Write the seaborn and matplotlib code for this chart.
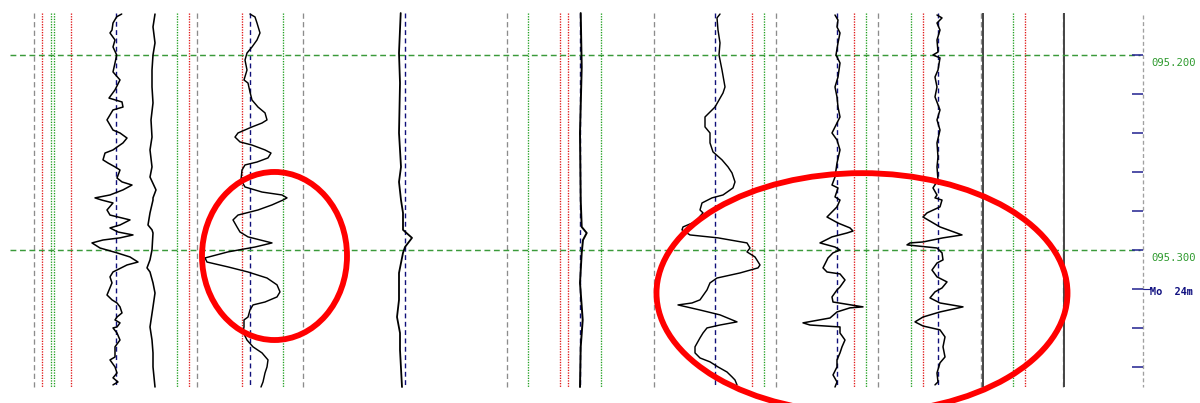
import matplotlib
matplotlib.use("Agg")
import matplotlib.pyplot as plt
from matplotlib.patches import Ellipse
import seaborn as sns
import pandas as pd

# ---------------- data (depth in mm below 95 m; horizontal in track units) -------------
c1_x = [121.7, 116.7, 113, 112, 110, 115, 113, 116.7, 115, 113, 120, 115, 109, 122, 123, 113, 107, 110, 113, 120,
        127, 123, 113, 105, 103, 108, 115, 120, 117, 122, 132, 123, 110, 95, 101.7, 113, 107, 110, 130, 120,
        110, 118, 133, 120, 103, 92, 100, 117, 130, 138, 127, 113, 110, 112, 107, 112, 117, 120, 122, 117,
        115, 120, 117, 113, 117, 120, 115, 115, 110, 115, 117, 113, 118, 113]
c1_d = [179.0, 180.4, 183.6, 187.2, 188.7, 192.3, 195.9, 200.0, 204.1, 208.7, 212.8, 217.9, 222.1, 224.1, 226.7,
        228.2, 233.3, 235.9, 238.5, 240.0, 242.6, 245.1, 248.7, 250.3, 253.8, 255.4, 257.4, 259.0, 263.1, 265.1,
        266.7, 269.2, 271.8, 273.3, 274.4, 275.9, 279.5, 282.1, 284.6, 287.2, 288.7, 290.8, 292.3, 293.8, 294.9,
        296.4, 299.0, 301.5, 303.6, 306.2, 307.7, 311.3, 313.8, 316.9, 323.1, 325.6, 327.2, 329.2, 332.3, 334.4,
        335.9, 337.4, 339.5, 340.0, 342.6, 346.2, 349.7, 354.9, 356.4, 360.0, 363.1, 365.6, 367.7, 369.2]

c2_x = [155, 153, 155, 153, 152, 152, 153, 151, 152, 150, 152, 150, 156, 153, 153, 150, 148, 152, 153, 152,
        150, 147, 150, 153, 155, 153, 150, 152, 153, 153, 155]
c2_d = [179.0, 185.6, 193.8, 200.0, 207.7, 216.4, 224.6, 233.3, 242.1, 248.7, 257.4, 262.6, 269.2, 273.3, 274.4,
        281.0, 287.2, 289.7, 291.3, 300.0, 305.1, 309.2, 311.3, 316.9, 322.1, 329.2, 339.5, 346.2, 352.8, 360.0,
        370.3]

c3_x = [250, 255, 257, 260, 257, 252, 247, 245, 247, 244, 248, 250, 252, 258, 265, 267, 262, 252, 238, 235,
        240, 252, 265, 271, 268, 257, 245, 242, 241, 245, 262, 282, 287, 283, 272, 258, 238, 233, 237, 240,
        248, 272, 255, 228, 205, 207, 228, 248, 267, 277, 280, 277, 265, 253, 250, 248, 244, 244, 243, 247,
        253, 262, 268, 267, 265, 263, 261]
c3_d = [179.0, 180.5, 183.6, 188.7, 192.3, 195.9, 199.0, 202.6, 207.7, 212.8, 214.4, 219.0, 223.1, 226.7, 229.7,
        233.3, 234.9, 236.9, 240.0, 242.1, 244.6, 246.2, 248.7, 250.3, 252.8, 254.9, 256.4, 259.0, 264.1, 267.7,
        270.3, 271.8, 273.3, 274.4, 276.9, 279.5, 282.1, 284.6, 288.2, 290.8, 293.3, 296.4, 298.5, 301.0, 304.1,
        306.2, 308.7, 311.3, 314.4, 317.9, 321.5, 324.1, 326.7, 328.2, 330.8, 334.4, 335.9, 339.5, 342.1, 346.2,
        349.7, 352.8, 356.4, 360.0, 363.1, 367.7, 370.3]

c4_x = [400.7, 399, 400, 399, 401, 399, 401, 403, 403, 412, 405, 403, 399, 399, 397, 400, 400, 402]
c4_d = [178.5, 199.0, 214.4, 240.0, 257.4, 265.1, 274.4, 281.0, 289.7, 293.8, 298.5, 301.5, 311.8, 325.6, 334.4,
        342.6, 351.3, 370.3]

c5_x = [580.7, 581.7, 580, 580.7, 581.7, 586.7, 583, 581.7, 580, 582.7, 580.7, 580]
c5_d = [178.5, 206.2, 240.0, 274.4, 288.2, 291.3, 294.9, 301.5, 316.9, 335.9, 349.7, 370.3]

c6_x = [720, 717, 718, 720, 719, 722, 725, 723, 715, 705, 705, 710, 710, 713, 722, 728, 732, 735, 733, 723,
        712, 702, 700, 703, 695, 683, 682, 690, 718, 747, 750, 747, 755, 760, 758, 740, 717, 710, 707, 700,
        692, 678, 700, 720, 737, 720, 707, 703, 700, 695, 695, 700, 710, 718, 727, 732, 735, 737]
c6_d = [179.0, 181.0, 187.2, 193.8, 200.0, 207.7, 216.4, 219.5, 226.7, 231.8, 236.9, 240.0, 245.1, 249.7, 253.8,
        257.4, 260.5, 265.1, 268.2, 271.8, 273.3, 275.9, 279.5, 281.0, 285.6, 288.2, 289.7, 292.3, 293.8, 296.4,
        299.0, 301.0, 303.6, 307.7, 309.2, 311.8, 314.4, 316.9, 320.5, 325.6, 327.2, 328.2, 330.8, 333.3, 336.9,
        338.5, 340.0, 342.6, 345.1, 349.7, 352.8, 355.4, 357.4, 360.0, 362.6, 365.1, 366.7, 369.2]

c7_x = [835, 838, 837, 840, 838, 836, 840, 838, 835, 837, 838, 840, 832, 837, 840, 837, 835, 832, 838, 835,
        840, 837, 827, 838, 850, 853, 847, 832, 820, 835, 840, 833, 828, 823, 827, 840, 845, 840, 837, 832,
        833, 863, 850, 837, 830, 803, 810, 840, 840, 845, 842, 840, 837, 837, 833, 837, 835]
c7_d = [179.5, 182.1, 185.6, 188.7, 193.8, 200.0, 204.1, 211.3, 216.4, 221.5, 226.7, 231.8, 240.0, 243.6, 248.7,
        255.4, 262.6, 266.7, 268.2, 272.8, 274.4, 277.9, 283.1, 286.2, 288.7, 290.3, 291.3, 293.3, 296.4, 298.5,
        300.0, 301.5, 304.1, 309.2, 311.3, 312.3, 315.4, 319.0, 320.5, 324.1, 326.7, 329.2, 329.7, 331.8, 334.9,
        337.4, 338.5, 339.5, 342.6, 346.2, 349.7, 352.8, 356.4, 360.0, 364.1, 367.7, 370.3]

c8_x = [937, 942, 937, 940, 937, 938, 933, 940, 938, 935, 937, 935, 940, 937, 940, 937, 938, 937, 938, 933,
        937, 935, 942, 940, 927, 923, 940, 962, 943, 923, 910, 907, 937, 942, 943, 937, 932, 937, 947, 942,
        935, 930, 940, 963, 940, 923, 915, 923, 940, 945, 943, 945, 940, 937, 938, 935]
c8_d = [179.5, 181.0, 183.6, 187.2, 192.3, 198.5, 200.0, 201.5, 207.7, 211.3, 216.4, 221.5, 228.2, 233.3, 238.5,
        245.1, 252.3, 257.4, 264.1, 268.2, 271.8, 273.3, 274.4, 277.9, 281.0, 283.1, 288.2, 292.3, 293.8, 295.9,
        296.4, 297.4, 299.0, 301.5, 305.1, 306.7, 310.3, 313.8, 316.4, 319.5, 321.5, 324.6, 327.2, 329.2, 331.8,
        334.4, 336.9, 339.0, 341.0, 344.6, 349.7, 354.9, 357.9, 363.1, 367.7, 369.2]

# track grid lines (horizontal track units)
gray_dashed = [34, 197, 303, 507, 654, 776, 878, 981, 1063]
red_dotted = [42, 71, 189, 242, 560, 568, 752, 854, 923, 1025]
green_dotted = [51, 54, 177, 283, 528, 601, 764, 866, 911, 1013]
blue_baselines = [116, 250, 405, 580, 715, 837, 938]
solid_borders = [983, 1064]

depth_ticks = [200, 220, 240, 260, 280, 300, 320, 340, 360]
depth_labels = {200: "095.200", 300: "095.300"}
marker_lines = [200, 300]
scale_text = "Mo  24m"

# ---------------- plotting ----------------
sns.set_style("white")
plt.rcParams['font.family'] = ['DejaVu Sans Mono', 'DejaVu Sans']

fig = plt.figure(figsize=(12, 4.03), dpi=100)
ax = fig.add_axes([0, 0, 1, 1])
ax.set_xlim(0, 1200)
ax.set_ylim(378.5, 171.8)
ax.axis("off")

top, bot = 178.5, 370.3
ax.vlines(gray_dashed, top, bot, colors="#8c8c8c", lw=0.95, linestyles=(0, (4, 2.5)))
ax.vlines(red_dotted, top, bot, colors="#e01818", lw=0.95, linestyles=(0, (1, 1)))
ax.vlines(green_dotted, top, bot, colors="#22a022", lw=0.95, linestyles=(0, (1, 1)))
ax.vlines(blue_baselines, top, bot, colors="#10107a", lw=1.0, linestyles=(0, (3.5, 2.5)))
ax.vlines(solid_borders, top, bot, colors="#444444", lw=1.4)
ax.vlines([1143], 179.5, bot, colors="#a0a0a0", lw=0.95, linestyles=(0, (3, 2)))

ax.hlines(marker_lines, 10, 1140, colors="#3a9a3a", lw=1.05, linestyles=(0, (4, 2.5)))

curves = [(c1_x, c1_d, 1.1), (c2_x, c2_d, 1.15), (c3_x, c3_d, 1.05), (c4_x, c4_d, 1.3),
          (c5_x, c5_d, 1.4), (c6_x, c6_d, 1.05), (c7_x, c7_d, 1.1), (c8_x, c8_d, 1.1)]
for xs, ds, lw in curves:
    df = pd.DataFrame({"v": xs, "depth": ds})
    sns.lineplot(data=df, x="v", y="depth", sort=False, estimator=None,
                 color="black", lw=lw, ax=ax, legend=False)

# depth track
ax.hlines(depth_ticks, 1132, 1143, colors="#202090", lw=1.1)
for d, lab in depth_labels.items():
    ax.text(1151, d + 4, lab, color="#2e9a2e", fontsize=7.6, va="center", ha="left")
ax.plot([1143, 1150, 1150], [320, 320, 319], color="#202090", lw=0.8)
ax.text(1150, 321.5, scale_text, color="#101080", fontsize=7.4, va="center", ha="left",
        fontweight="bold")

# highlight ellipses
ax.add_patch(Ellipse((274.5, 303.1), 145, 86.2, fill=False, ec="#ff0000", lw=4.2, zorder=5))
ax.add_patch(Ellipse((862, 322.1), 411, 123, fill=False, ec="#ff0000", lw=4.2, zorder=5))

fig.savefig("out.png", dpi=100)
